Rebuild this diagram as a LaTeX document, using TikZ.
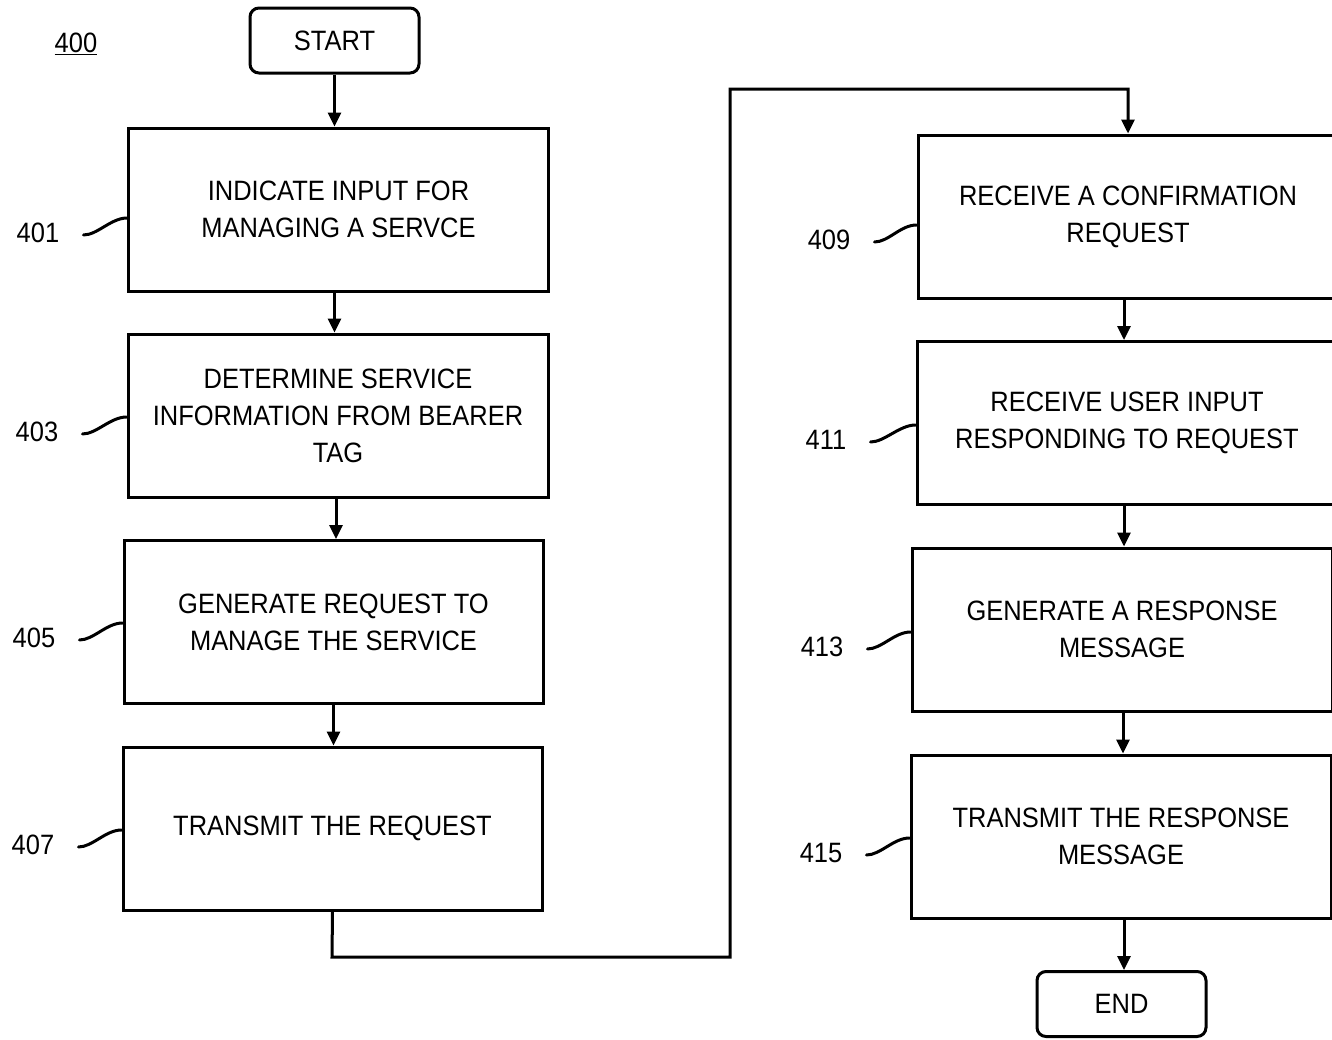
\documentclass[tikz,border=0pt]{standalone}
\usepackage{fontspec}
\setmainfont{Liberation Sans}[FakeStretch=0.91]
\usetikzlibrary{arrows.meta,calc}
\begin{document}
\begin{tikzpicture}[x=1pt,y=-1pt,
  every node/.style={font=\fontsize{28}{37}\selectfont},
  stepbox/.style={draw,line width=3pt,minimum width=420pt,minimum height=163pt,align=center,inner sep=0pt},
  termbox/.style={draw,line width=3pt,rounded corners=9pt,minimum width=169pt,minimum height=65pt,inner sep=0pt},
  flow/.style={line width=3pt,-{Triangle[length=14pt,width=13pt]}},
  lead/.style={line width=3pt,line cap=round},
  reflbl/.style={inner sep=0pt}]
\useasboundingbox (0,0) rectangle (1332,1039);
\clip (0,0) rectangle (1332,1039);
\fill[white] (0,0) rectangle (1332,1039);

\node[reflbl] (n400) at (76,44) {\underline{400}};

\node[termbox] (start) at (334.5,40.5) {START};
\node[stepbox] (s401) at (338.5,209.5) {INDICATE INPUT FOR\\MANAGING A SERVCE};
\node[stepbox] (s403) at (338,415.5) {DETERMINE SERVICE\\INFORMATION FROM BEARER\\TAG};
\node[stepbox,minimum width=419pt] (s405) at (333.5,622) {GENERATE REQUEST TO\\MANAGE THE SERVICE};
\node[stepbox,minimum width=419pt] (s407) at (332.5,828.5) {TRANSMIT THE REQUEST};

\node[stepbox] (s409) at (1128,216.5) {RECEIVE A CONFIRMATION\\REQUEST};
\node[stepbox] (s411) at (1127,423) {RECEIVE USER INPUT\\RESPONDING TO REQUEST};
\node[stepbox] (s413) at (1122,629.5) {GENERATE A RESPONSE\\MESSAGE};
\node[stepbox] (s415) at (1121,836.5) {TRANSMIT THE RESPONSE\\MESSAGE};
\node[termbox] (end) at (1121.5,1004) {END};

% connectors
\draw[flow] (start.south) -- (start.south |- s401.north);
\draw[flow] (start.south |- s401.south) -- (start.south |- s403.north);
\draw[flow] ([xshift=-2pt]s403.south) -- ([xshift=-2pt]s403.south |- s405.north);
\draw[flow] (s405.south) -- (s405.south |- s407.north);
\coordinate (c1) at (332,957);
\coordinate (c2) at (730,957);
\coordinate (c3) at (730,89);
\coordinate (c4) at (1128,89);
\draw[flow] (s407.south) -- (c1) -- (c2) -- (c3) -- (c4) -- (s409.north);
\draw[flow] ([xshift=-4pt]s409.south) -- ([xshift=-4pt]s409.south |- s411.north);
\draw[flow] ([xshift=-3pt]s411.south) -- ([xshift=-3pt]s411.south |- s413.north);
\draw[flow] ([xshift=1pt]s413.south) -- ([xshift=1pt]s413.south |- s415.north);
\draw[flow] ([xshift=3pt]s415.south) -- ([xshift=3pt]s415.south |- end.north);

% reference labels
\node[reflbl] (l401) at (38,233) {401};
\node[reflbl] (l403) at (37,432) {403};
\node[reflbl] (l405) at (34,638) {405};
\node[reflbl] (l407) at (33,845) {407};
\node[reflbl] (l409) at (829,240) {409};
\node[reflbl] (l411) at (826,440) {411};
\node[reflbl] (l413) at (822,647) {413};
\node[reflbl] (l415) at (821,853) {415};

\foreach \l/\b in {l401/s401,l403/s403,l405/s405,l407/s407,l409/s409,l411/s411,l413/s413,l415/s415}{
  \draw[lead] ([xshift=24pt,yshift=-2pt]\l.east) .. controls +(14,0) and +(-16,0) .. ([yshift=15pt]\l.east -| \b.west);
}
\end{tikzpicture}
\end{document}
